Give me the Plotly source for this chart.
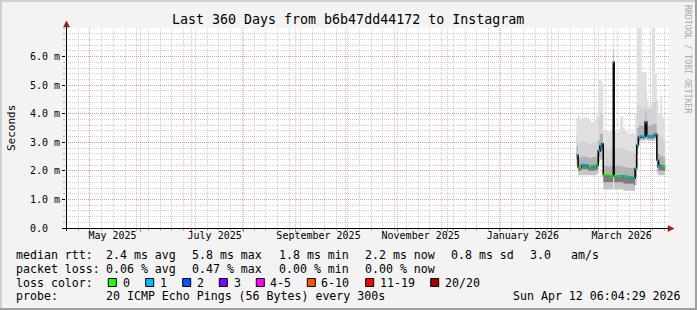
import plotly.graph_objects as go

# ---------------- data ----------------
x_start = "2025-04-17 06:04:29"
x_end = "2026-04-12 06:04:29"

bin_start = [
    "2026-02-16", "2026-02-17", "2026-02-18", "2026-02-19", "2026-02-20", "2026-02-21",
    "2026-02-22", "2026-02-23", "2026-02-24", "2026-02-25", "2026-02-26", "2026-02-27",
    "2026-02-28", "2026-03-01", "2026-03-02", "2026-03-03", "2026-03-04", "2026-03-05",
    "2026-03-06", "2026-03-07", "2026-03-08", "2026-03-09", "2026-03-10 00:00", "2026-03-10 12:00",
    "2026-03-11", "2026-03-12", "2026-03-13", "2026-03-14", "2026-03-15", "2026-03-16",
    "2026-03-17", "2026-03-18", "2026-03-19", "2026-03-20", "2026-03-21", "2026-03-22",
    "2026-03-23", "2026-03-24", "2026-03-25", "2026-03-26", "2026-03-27", "2026-03-28",
    "2026-03-29", "2026-03-30", "2026-03-31", "2026-04-01", "2026-04-02", "2026-04-03",
    "2026-04-04", "2026-04-05", "2026-04-06", "2026-04-07", "2026-04-08", "2026-04-09",
]
data_end = "2026-04-10"

median_ms = [
    2.55, 2.12, 2.13, 2.20, 2.21, 2.20, 2.19, 2.15, 2.14, 2.15, 2.16, 2.15,
    2.20, 2.70, 2.88, 2.95, 1.86, 1.85, 1.84, 1.84, 1.83, 1.83, 5.80, 1.84,
    1.83, 1.82, 1.82, 1.81, 1.82, 1.80, 1.80, 1.79, 1.79, 1.78, 1.76, 1.74,
    2.08, 2.90, 3.18, 3.20, 3.18, 3.20, 3.72, 3.22, 3.20, 3.20, 3.22, 3.25,
    3.28, 2.38, 2.20, 2.17, 2.15, 2.15,
]
loss_count = [
    1, 0, 0, 1, 1, 1, 1, 0, 0, 1, 1, 0,
    0, 1, 1, 1, 0, 0, 0, 0, 0, 0, 1, 0,
    0, 0, 1, 0, 1, 0, 1, 0, 1, 0, 1, 1,
    0, 1, 1, 1, 1, 1, 1, 1, 1, 1, 1, 1,
    1, 1, 1, 1, 0, 0,
]
ping_min = [
    2.20, 1.85, 1.85, 1.85, 1.85, 1.85, 1.85, 1.85, 1.85, 1.85, 1.85, 1.85,
    1.90, 2.30, 2.40, 2.40, 1.35, 1.35, 1.35, 1.35, 1.35, 1.35, 1.80, 1.35,
    1.35, 1.35, 1.35, 1.35, 1.35, 1.30, 1.30, 1.30, 1.30, 1.30, 1.30, 1.30,
    1.50, 2.60, 3.00, 3.05, 3.05, 3.05, 3.10, 3.05, 3.05, 3.05, 3.05, 3.05,
    3.10, 1.90, 1.85, 1.85, 1.85, 1.85,
]
ping_p25 = [
    2.40, 2.00, 2.00, 2.05, 2.05, 2.05, 2.05, 2.00, 2.00, 2.00, 2.00, 2.00,
    2.05, 2.50, 2.65, 2.70, 1.60, 1.60, 1.60, 1.60, 1.60, 1.60, 5.30, 1.60,
    1.60, 1.60, 1.60, 1.60, 1.60, 1.55, 1.55, 1.55, 1.55, 1.55, 1.55, 1.50,
    1.80, 2.80, 3.10, 3.12, 3.12, 3.12, 3.40, 3.12, 3.12, 3.12, 3.12, 3.15,
    3.18, 2.10, 2.00, 2.00, 2.00, 2.00,
]
ping_p75 = [
    2.90, 2.45, 2.50, 2.50, 2.55, 2.50, 2.50, 2.45, 2.45, 2.50, 2.50, 2.50,
    2.60, 3.10, 3.30, 3.30, 2.20, 2.20, 2.20, 2.15, 2.20, 2.20, 6.20, 2.20,
    2.20, 2.20, 2.20, 2.15, 2.20, 2.15, 2.15, 2.15, 2.10, 2.10, 2.10, 2.10,
    2.60, 3.50, 3.60, 3.60, 3.60, 3.60, 4.10, 3.60, 3.60, 3.60, 3.65, 3.65,
    3.70, 2.80, 2.60, 2.55, 2.55, 2.50,
]
ping_p90 = [
    3.30, 3.00, 3.05, 3.10, 3.10, 3.00, 3.05, 3.00, 2.95, 3.00, 3.00, 3.00,
    3.10, 3.90, 4.10, 4.00, 2.80, 2.80, 2.75, 2.75, 2.80, 2.80, 6.60, 2.80,
    2.80, 2.80, 2.85, 2.80, 2.85, 2.80, 2.75, 2.75, 2.70, 2.70, 2.70, 2.70,
    3.30, 4.40, 4.30, 4.30, 4.20, 4.30, 4.80, 4.20, 4.20, 4.20, 4.40, 4.40,
    4.50, 3.40, 3.30, 3.20, 3.20, 3.10,
]
ping_max = [
    3.85, 3.95, 3.80, 3.75, 3.85, 3.90, 3.85, 3.80, 3.75, 3.70, 3.72, 3.78,
    3.95, 5.20, 5.20, 5.10, 3.40, 3.45, 3.40, 3.35, 3.45, 3.40, 7.50, 3.40,
    3.40, 3.35, 3.45, 3.90, 3.90, 3.50, 3.40, 3.35, 3.30, 3.30, 3.35, 3.30,
    4.00, 7.50, 7.50, 7.50, 5.45, 5.45, 5.45, 4.50, 4.30, 4.40, 7.50, 7.50,
    5.40, 4.50, 4.00, 4.60, 3.90, 3.85,
]

month_starts = ["2025-05-01", "2025-06-01", "2025-07-01", "2025-08-01", "2025-09-01",
                "2025-10-01", "2025-11-01", "2025-12-01", "2026-01-01", "2026-02-01",
                "2026-03-01", "2026-04-01"]
month_label_pos = ["2025-05-15", "2025-07-15", "2025-09-15", "2025-11-15", "2026-01-15", "2026-03-15"]
month_labels = ["May 2025", "July 2025", "September 2025", "November 2025", "January 2026", "March 2026"]

y_tick_vals = [0, 1, 2, 3, 4, 5, 6]
y_tick_text = ["0.0\u00a0\u00a0", "1.0 m", "2.0 m", "3.0 m", "4.0 m", "5.0 m", "6.0 m"]

title_text = "Last 360 Days from b6b47dd44172 to Instagram"
rtt_stats = ["2.4 ms avg", "5.8 ms max", "1.8 ms min", "2.2 ms now", "0.8 ms sd", "3.0", "am/s"]
loss_stats = ["0.06 % avg", "0.47 % max", "0.00 % min", "0.00 % now"]
loss_labels = ["0", "1", "2", "3", "4-5", "6-10", "11-19", "20/20"]
loss_upper = [0, 1, 2, 3, 5, 10, 19, 20]
loss_colors = ["#26ff00", "#00b8ff", "#0059ff", "#7e00ff", "#ff00ff", "#ff5500", "#ff0000", "#a10000"]
probe_text = "20 ICMP Echo Pings (56 Bytes) every 300s"
stamp_text = "Sun Apr 12 06:04:29 2026"

# ---------------- layout constants (pixels) ----------------
W, H = 697, 310
L, R, T, B = 66, 669, 28, 228
FONT = "DejaVu Sans Mono"


def px_x(px):
    return (px - L) / (R - L)


def px_y(py):
    return (B - py) / (B - T)


fig = go.Figure()

xs = bin_start + [data_end]


def ext(v):
    return list(v) + [v[-1]]


# smoke bands
band_series = [ping_min, ping_p25, median_ms, ping_p75, ping_p90, ping_max]
band_colors = [None, "#c4c4c4", "#7c7c7c", "#b2b2b2", "#d3d3d3", "#e0e0e0"]
for s, c in zip(band_series, band_colors):
    fig.add_trace(go.Scatter(
        x=xs, y=ext(s), mode="lines", line=dict(width=0, shape="hv"),
        fill=None if c is None else "tonexty", fillcolor=c,
        hoverinfo="skip", showlegend=False))

# black median connector line
fig.add_trace(go.Scatter(x=xs, y=ext(median_ms), mode="lines",
                         line=dict(color="#000000", width=1.5, shape="hv"),
                         hoverinfo="skip", showlegend=False))


def loss_level(n):
    for k, up in enumerate(loss_upper):
        if n <= up:
            return k
    return len(loss_upper) - 1


# loss-coloured median segments
for lvl, col in enumerate(loss_colors):
    sx, sy = [], []
    for i, m in enumerate(median_ms):
        if loss_level(loss_count[i]) == lvl:
            sx += [xs[i], xs[i + 1], None]
            sy += [m, m, None]
    if sx:
        fig.add_trace(go.Scatter(x=sx, y=sy, mode="lines",
                                 line=dict(color=col, width=2),
                                 hoverinfo="skip", showlegend=False))

# invisible trace for label axis
fig.add_trace(go.Scatter(x=[x_start, x_end], y=[None, None], xaxis="x2", yaxis="y",
                         mode="lines", hoverinfo="skip", showlegend=False))

MGRID = "rgba(255,0,0,0.26)"
MINGRID = "rgba(110,110,110,0.32)"
DASH = "1px,1px"

fig.update_layout(
    width=W, height=H,
    margin=dict(l=L, r=W - R, t=T, b=H - B, pad=0),
    paper_bgcolor="#F3F3F3", plot_bgcolor="#FFFFFF",
    font=dict(family=FONT, color="#000000", size=10),
    showlegend=False,
    xaxis=dict(
        type="date", range=[x_start, x_end], tickmode="array",
        tickvals=month_starts, ticktext=[""] * len(month_starts),
        showgrid=True, gridcolor=MGRID, griddash=DASH, gridwidth=1,
        ticks="outside", ticklen=3, tickcolor="rgba(220,60,60,0.7)", tickwidth=1,
        showline=False, zeroline=False, fixedrange=True,
        minor=dict(tickmode="linear", tick0="2026-03-05 12:00", dtick=7 * 86400000,
                   showgrid=True, gridcolor=MINGRID, griddash=DASH, gridwidth=1,
                   ticks="outside", ticklen=2, tickcolor="#b8b8b8"),
    ),
    xaxis2=dict(
        type="date", range=[x_start, x_end], overlaying="x", anchor="y", side="bottom",
        tickmode="array", tickvals=month_label_pos, ticktext=month_labels,
        showgrid=False, ticks="", showline=False, zeroline=False,
        tickfont=dict(family=FONT, size=10, color="#000000"), fixedrange=True,
    ),
    yaxis=dict(
        range=[0, 7], tickmode="array", tickvals=y_tick_vals, ticktext=y_tick_text,
        showgrid=True, gridcolor=MGRID, griddash=DASH, gridwidth=1,
        ticks="outside", ticklen=3, tickcolor="#000000", tickwidth=1,
        showline=False, zeroline=False, fixedrange=True,
        tickfont=dict(family=FONT, size=10, color="#000000"),
        minor=dict(tickmode="linear", tick0=0, dtick=0.2, showgrid=True,
                   gridcolor=MINGRID, griddash=DASH, gridwidth=1,
                   ticks="outside", ticklen=2, tickcolor="#b8b8b8"),
    ),
)

shapes = []


def rect_px(x0, y0, x1, y1, fill, line_color=None, lw=0):
    shapes.append(dict(type="rect", xref="paper", yref="paper",
                       x0=px_x(x0), x1=px_x(x1), y0=px_y(y1), y1=px_y(y0),
                       fillcolor=fill, layer="above",
                       line=dict(width=lw, color=line_color or fill)))


def line_px(x0, y0, x1, y1, color, w=1):
    shapes.append(dict(type="line", xref="paper", yref="paper",
                       x0=px_x(x0), x1=px_x(x1), y0=px_y(y0), y1=px_y(y1),
                       layer="above", line=dict(color=color, width=w)))


def tri_px(pts, color):
    path = "M " + " L ".join(f"{px_x(a):.5f},{px_y(b):.5f}" for a, b in pts) + " Z"
    shapes.append(dict(type="path", xref="paper", yref="paper", path=path,
                       fillcolor=color, line=dict(color=color, width=0.5), layer="above"))


# frame shading
rect_px(0, 0, W, 2, "#CFCFCF")
rect_px(0, 0, 2, H, "#CFCFCF")
rect_px(0, H - 2, W, H, "#A0A0A0")
rect_px(W - 2, 0, W, H, "#A0A0A0")

# axes with arrows
line_px(62, 228.5, 669, 228.5, "#000000", 1)
line_px(66.5, 231, 66.5, 25, "#000000", 1)
ARROW = "#A01818"
tri_px([(668, 225.5), (674, 228.5), (668, 231.5)], ARROW)
tri_px([(63.5, 27), (66.5, 21), (69.5, 27)], ARROW)

annotations = []


def text_px(x, y, s, size=11.6, color="#000000", anchor="left", angle=0):
    annotations.append(dict(text=s, xref="paper", yref="paper", x=px_x(x), y=px_y(y),
                            xanchor=anchor, yanchor="middle", showarrow=False,
                            textangle=angle, borderpad=0, borderwidth=0,
                            font=dict(family=FONT, size=size, color=color)))


text_px(347.5, 19, title_text, size=13.3, anchor="center")
text_px(11, 128, "Seconds", size=11, anchor="center", angle=-90)
text_px(688, 59, "RRDTOOL / TOBI OETIKER", size=8.2, color="#A8A8A8", anchor="center", angle=90)

LEG = 11.6
row_y = [254.6, 268.6, 282.6, 296.4]
text_px(15.5, row_y[0], "median rtt:", LEG)
for xp, s in zip([106.2, 192.2, 278.8, 364.5, 450.5, 529.5, 571.2], rtt_stats):
    text_px(xp, row_y[0], s, LEG)
text_px(15.5, row_y[1], "packet loss:", LEG)
for xp, s in zip([106.2, 192.2, 278.8, 364.5], loss_stats):
    text_px(xp, row_y[1], s, LEG)
text_px(15.5, row_y[2], "loss color:", LEG)
box_x = [108.3, 145.7, 182.7, 219.3, 256.3, 307.3, 365.7, 430.7]
lab_x = [122.8, 160.2, 197.0, 233.5, 270.2, 321.2, 380.2, 445.2]
for bx, lx, lab, col in zip(box_x, lab_x, loss_labels, loss_colors):
    rect_px(bx, 278.5, bx + 8, 286.5, col, "#000000", 1)
    text_px(lx, row_y[2], lab, LEG)
text_px(15.5, row_y[3], "probe:", LEG)
text_px(106.2, row_y[3], probe_text, LEG)
text_px(512.8, row_y[3], stamp_text, LEG)

fig.update_layout(shapes=shapes, annotations=annotations)

fig.write_html("out.html")
